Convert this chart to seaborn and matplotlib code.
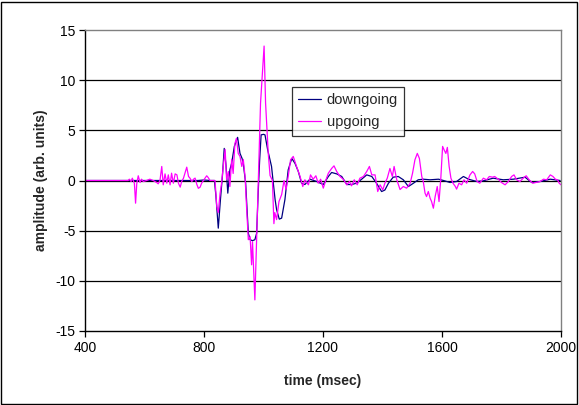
import numpy as np
import pandas as pd
import matplotlib
matplotlib.use("Agg")
import matplotlib.pyplot as plt
import seaborn as sns

down_t = [400, 500, 600, 700, 780, 800, 820, 835, 840, 848, 855, 862, 868, 874, 880, 887, 893, 902, 913,
          921, 928, 932, 940, 949, 955, 963, 971, 977, 982, 987, 992, 1000, 1005, 1014, 1020, 1027, 1033,
          1039, 1044, 1053, 1061, 1072, 1083, 1095, 1106, 1117, 1128, 1139, 1156, 1179, 1201, 1218, 1229,
          1246, 1263, 1280, 1296, 1313, 1330, 1347, 1364, 1380, 1397, 1408, 1420, 1436, 1453, 1470, 1487,
          1504, 1520, 1537, 1560, 1588, 1605, 1627, 1649, 1672, 1689, 1717, 1739, 1772, 1806, 1840, 1879,
          1902, 1930, 1964, 1997]
down_v = [0, 0, 0, 0, 0, 0.05, 0, 0, -1.5, -4.75, -2, 0.5, 3.2, 1.5, -1.26, 1.07, 1.73, 3.4, 4.3,
          2.7, 2.2, 1.7, -0.27, -5.25, -5.9, -6.0, -5.9, -5.25, -1.3, 2, 4.55, 4.6, 4.55, 3.06, 2.3, 1.4, -0.27,
          -1.9, -2.9, -3.85, -3.75, -1.9, 1.06, 2.2, 1.7, 0.9, -0.27, -0.4, 0.13, -0.1, -0.4, 0.4, 0.8,
          0.66, 0.4, -0.4, -0.4, -0.27, 0.13, 0.56, 0.4, -0.27, -1.1, -0.95, -0.27, 0.33, 0.4, 0.07, -0.6,
          -0.27, 0.07, 0.13, 0.07, 0.13, 0, -0.2, -0.1, 0.4, 0.13, -0.1, -0.03, 0.23, 0.07, 0.13, 0.33,
          -0.2, -0.1, 0.13, 0]

up_t = [400, 450, 500, 545, 549, 555, 559, 566, 570, 574, 579, 585, 590, 596, 607, 618, 629, 641, 646, 652,
        658, 663, 669, 675, 680, 686, 691, 697, 703, 709, 714, 720, 725, 731, 736, 742, 748, 753, 759, 765,
        770, 776, 781, 787, 792, 798, 809, 814, 820, 837, 843, 848, 854, 859, 865, 871, 876, 882, 887, 893,
        898, 904, 909, 915, 921, 927, 932, 938, 943, 949, 955, 960, 963, 971, 975, 982, 990, 1002, 1007,
        1016, 1022, 1030, 1035, 1038, 1044, 1052, 1061, 1069, 1076, 1083, 1091, 1100, 1111, 1123, 1132,
        1139, 1151, 1158, 1167, 1176, 1184, 1192, 1201, 1210, 1218, 1229, 1237, 1246, 1257, 1268, 1280,
        1289, 1296, 1305, 1315, 1324, 1336, 1347, 1356, 1364, 1375, 1384, 1392, 1401, 1408, 1416, 1425,
        1433, 1439, 1448, 1459, 1470, 1481, 1493, 1501, 1509, 1517, 1524, 1532, 1537, 1543, 1548, 1554,
        1560, 1565, 1571, 1577, 1584, 1590, 1596, 1602, 1607, 1613, 1618, 1624, 1630, 1637, 1645, 1649,
        1657, 1666, 1674, 1683, 1694, 1703, 1710, 1718, 1727, 1739, 1750, 1759, 1770, 1777, 1789, 1800,
        1812, 1823, 1834, 1842, 1851, 1862, 1873, 1883, 1893, 1905, 1916, 1930, 1941, 1952, 1964, 1973,
        1981, 1988, 1994, 2000]
up_v = [0, 0, 0, 0, 0.13, -0.1, 0.23, -0.27, -2.26, -0.3, 0.47, -0.2, 0.13, -0.1, 0, 0.13, 0, -0.2, -0.33, 0,
        1.4, -0.43, 0.66, -0.27, 0.56, -0.43, 0.73, -0.27, 0.66, 0.56, -0.27, -0.66, -0.1, 0.23, 0.73, 1.33,
        0.4, 0.23, -0.1, 0.13, 0.24, -0.4, -0.78, -0.66, -0.27, 0, 0.47, 0.3, 0, 0, -2.6, -3.2, -1.3, -0.3,
        1.5, 3.1, 0.1, 0.9, -0.6, 2.1, 0.7, 3.7, 4.2, 2.7, 2.4, 1.4, 2.1, 0.4, -2.6, -5.9, -5.6, -8.4, -6.1,
        -11.9, -7.9, -0.6, 7.7, 13.4, 7.7, 2.7, 0.5, 0, -4.3, -3.2, -3.9, -2.1, -1.4, 0, -0.9, 0.4, 2.06,
        2.4, 1.4, 0.4, -0.6, 0.07, -0.43, 0.56, 0.13, 0.47, -0.27, 0.13, -0.76, 0.07, 0.73, 1.2, 1.46, 0.9,
        0.4, 0.13, -0.43, -0.1, -0.53, 0.07, -0.43, 0.23, 0.4, 0.9, 1.4, 0.56, 0.56, -1.1, -0.43, -0.93,
        -0.27, 0.23, 1.2, 0.4, 1.4, 0.07, -0.9, -0.6, -0.76, -0.27, 0.73, 2.06, 2.7, 2.2, 0.4, -0.1, -1.26,
        -1.6, -1.1, -1.76, -2.1, -2.76, -1.6, -0.6, -2.1, 0.23, 3.4, 3.06, 2.7, 3.3, 1.4, 0.23, -0.27, -0.6,
        -0.86, -0.27, -0.43, 0.07, -0.27, 0.56, 0.9, 0.66, -0.1, -0.27, 0.23, 0.07, 0.4, 0.33, 0.4, 0.13,
        -0.2, -0.43, -0.1, 0.4, 0.56, 0.07, -0.1, 0.23, 0.47, 0.07, -0.27, -0.2, -0.1, 0.13, 0.07, 0.56,
        0.4, 0.13, 0.07, -0.27, -0.43]

x_ticks = [400, 800, 1200, 1600, 2000]
y_ticks = [-15, -10, -5, 0, 5, 10, 15]

df = pd.concat([
    pd.DataFrame({"time": down_t, "amp": down_v, "series": "downgoing"}),
    pd.DataFrame({"time": up_t, "amp": up_v, "series": "upgoing"}),
], ignore_index=True)

sns.set_theme(style="white")
plt.rcParams["font.family"] = ["Liberation Sans", "DejaVu Sans"]
plt.rcParams["axes.unicode_minus"] = False

fig = plt.figure(figsize=(5.79, 4.05), dpi=100)
ax = fig.add_axes([85 / 579, 1 - 331 / 405, 476 / 579, 301 / 405])

for yv in y_ticks[1:-1]:
    ax.axhline(yv, color="black", lw=0.9, zorder=0)

sns.lineplot(data=df, x="time", y="amp", hue="series", palette={"downgoing": "#000080", "upgoing": "#FF00FF"},
             estimator=None, sort=False, lw=0.9, ax=ax)

ax.set_xlim(400, 2000)
ax.set_ylim(-15, 15)
ax.set_xticks(x_ticks)
ax.set_yticks(y_ticks)
ax.tick_params(axis="both", which="both", direction="out", length=4, width=0.9, colors="black",
               labelsize=10, bottom=True, left=True, pad=3)
for s in ["left", "bottom"]:
    ax.spines[s].set_color("black")
    ax.spines[s].set_linewidth(1.0)
for s in ["top", "right"]:
    ax.spines[s].set_color("#808080")
    ax.spines[s].set_linewidth(1.0)

ax.set_xlabel("time (msec)", fontsize=10, fontweight="bold", labelpad=14)
ax.set_ylabel("amplitude (arb. units)", fontsize=10, fontweight="bold", labelpad=5)

leg = ax.legend(loc="upper left", bbox_to_anchor=(0.434, 0.812), borderaxespad=0, frameon=True,
                fancybox=False, shadow=False, fontsize=10.5, handlelength=1.6, borderpad=0.45,
                labelspacing=0.55, handletextpad=0.35, title=None)
leg.get_frame().set_edgecolor("black")
leg.get_frame().set_linewidth(0.9)

fig.patches.append(plt.Rectangle((0.002, 0.003), 0.995, 0.993, transform=fig.transFigure,
                                 fill=False, edgecolor="black", lw=1.0))

fig.savefig("out.png", dpi=100, facecolor="white")
